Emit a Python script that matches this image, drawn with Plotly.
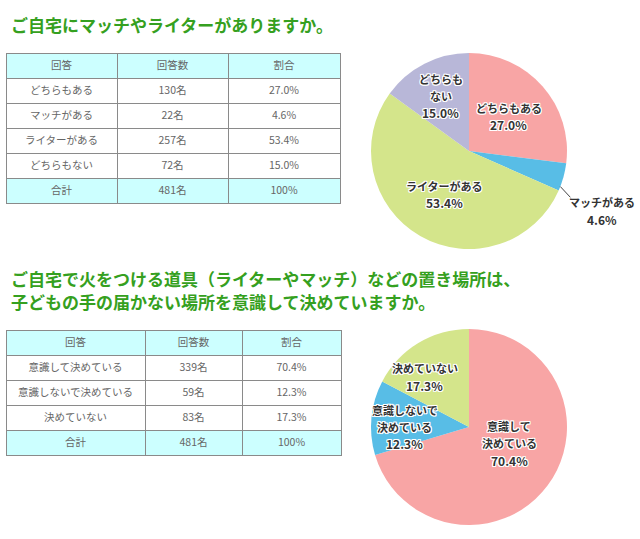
import math
import plotly.graph_objects as go

# ---------------- data ----------------
q1_title = "ご自宅にマッチやライターがありますか。"
q1_answers = ["どちらもある", "マッチがある", "ライターがある", "どちらもない"]
q1_counts = [130, 22, 257, 72]
q1_pcts = [27.0, 4.6, 53.4, 15.0]
q1_pie_names = [["どちらもある"], ["マッチがある"], ["ライターがある"], ["どちらも", "ない"]]
q1_total = ["合計", "481名", "100%"]

q2_title = ["ご自宅で火をつける道具（ライターやマッチ）などの置き場所は、",
            "子どもの手の届かない場所を意識して決めていますか。"]
q2_answers = ["意識して決めている", "意識しないで決めている", "決めていない"]
q2_counts = [339, 59, 83]
q2_pcts = [70.4, 12.3, 17.3]
q2_pie_names = [["意識して", "決めている"], ["意識しないで", "決めている"], ["決めていない"]]
q2_total = ["合計", "481名", "100%"]

table_header = ["回答", "回答数", "割合"]

q1_colors = ["#f8a5a5", "#58bde6", "#d4e58b", "#b8b7d8"]
q2_colors = ["#f8a5a5", "#58bde6", "#d4e58b"]

# ---------------- layout helpers ----------------
W, H = 640, 539
def px(x):
    return x / W
def py(y):
    return 1 - y / H

FONT = "Noto Sans CJK JP"
TITLE_COLOR = "#35a020"
CYAN = "#ccffff"
GRID = "#8a8a8a"

fig = go.Figure()

def add_table(x0, x1, y0, y1, colw, answers, counts, pcts, total):
    col1 = answers + [total[0]]
    col2 = [f"{c}名" for c in counts] + [total[1]]
    col3 = [f"{p:.1f}%" for p in pcts] + [total[2]]
    n = len(answers)
    fills = ["white"] * n + [CYAN]
    fig.add_trace(go.Table(
        domain=dict(x=[px(x0), px(x1)], y=[py(y1), py(y0)]),
        columnwidth=colw,
        header=dict(values=table_header, fill_color=CYAN, height=25,
                    line=dict(color=GRID, width=1), align="center",
                    font=dict(family=FONT, size=10.5, color="#666666")),
        cells=dict(values=[col1, col2, col3], fill_color=[fills] * 3, height=25,
                   line=dict(color=GRID, width=1), align="center",
                   font=dict(family=FONT, size=10.5, color="#666666")),
    ))

add_table(6, 340, 53, 215, [111, 111, 112], q1_answers, q1_counts, q1_pcts, q1_total)
add_table(6, 341, 330, 470, [139, 97, 99], q2_answers, q2_counts, q2_pcts, q2_total)

R = 98
def add_pie(cx, cy, labels, values, colors):
    fig.add_trace(go.Pie(
        labels=labels, values=values, sort=False, direction="clockwise",
        rotation=0, marker=dict(colors=colors, line=dict(width=0)),
        textinfo="none", hoverinfo="label+percent", showlegend=False,
        domain=dict(x=[px(cx - R), px(cx + R)], y=[py(cy + R), py(cy - R)]),
    ))

C1 = (469, 151)
C2 = (469, 427)
add_pie(*C1, q1_answers, q1_pcts, q1_colors)
add_pie(*C2, q2_answers, q2_pcts, q2_colors)

HALO = "1px 1px 0 #fff, -1px -1px 0 #fff, 1px -1px 0 #fff, -1px 1px 0 #fff, 0 1px 0 #fff, 0 -1px 0 #fff, 1px 0 0 #fff, -1px 0 0 #fff"
name_font = dict(family=FONT, size=11, color="#333333", weight="bold", shadow=HALO)
pct_font = dict(family=FONT, size=12, color="#333333", weight="bold", shadow=HALO)
LINE_GAP = 17

annotations = []

def add_label_block(x, y, lines):
    n = len(lines)
    for k, ln in enumerate(lines):
        yy = y + (k - (n - 1) / 2) * LINE_GAP
        annotations.append(dict(x=px(x), y=py(yy), xref="paper", yref="paper",
                                text=ln, showarrow=False,
                                font=pct_font if k == n - 1 else name_font,
                                xanchor="center", yanchor="middle"))

def pie_labels(center, names, values, fracs, nudges, skip=()):
    cx, cy = center
    total = sum(values)
    cum = 0
    for i, (nm, v) in enumerate(zip(names, values)):
        mid = (cum + v / 2) / total * 2 * math.pi
        cum += v
        if i in skip:
            continue
        f = fracs[i]
        dx, dy = nudges[i]
        x = cx + f * R * math.sin(mid) + dx
        y = cy - f * R * math.cos(mid) + dy
        add_label_block(x, y, nm + [f"{v:.1f}%"])

pie_labels(C1, q1_pie_names, q1_pcts, [0.54, 0, 0.51, 0.63],
           [(0, 0), (0, 0), (0, 0), (0, 0)], skip=(1,))
pie_labels(C2, q2_pie_names, q2_pcts, [0.45, 0.66, 0.6],
           [(5, -10), (0, 6), (-14, 0)])

# outside label for the small slice of pie 1
cum_before = sum(q1_pcts[:1])
ang = (cum_before + 0.85 * q1_pcts[1]) / sum(q1_pcts) * 2 * math.pi
sx = C1[0] + R * math.sin(ang)
sy = C1[1] - R * math.cos(ang)
fig.add_shape(type="line", xref="paper", yref="paper",
              x0=px(sx), y0=py(sy), x1=px(571), y1=py(198),
              line=dict(color="#444444", width=1))
add_label_block(602, 211, q1_pie_names[1] + [f"{q1_pcts[1]:.1f}%"])

# titles
title_font = dict(family=FONT, size=17, color=TITLE_COLOR, weight="bold")
annotations.append(dict(x=px(9), y=py(24), xref="paper", yref="paper", text=q1_title,
                        showarrow=False, xanchor="left", yanchor="middle", font=title_font))
annotations.append(dict(x=px(9), y=py(278), xref="paper", yref="paper", text=q2_title[0],
                        showarrow=False, xanchor="left", yanchor="middle", font=title_font))
annotations.append(dict(x=px(9), y=py(301), xref="paper", yref="paper", text=q2_title[1],
                        showarrow=False, xanchor="left", yanchor="middle", font=title_font))

fig.update_layout(width=W, height=H, margin=dict(l=0, r=0, t=0, b=0),
                  paper_bgcolor="white", plot_bgcolor="white",
                  annotations=annotations)

fig.write_html("out.html", config={"displayModeBar": False},
               post_script="document.body.style.margin='0';document.body.style.overflow='hidden';")
